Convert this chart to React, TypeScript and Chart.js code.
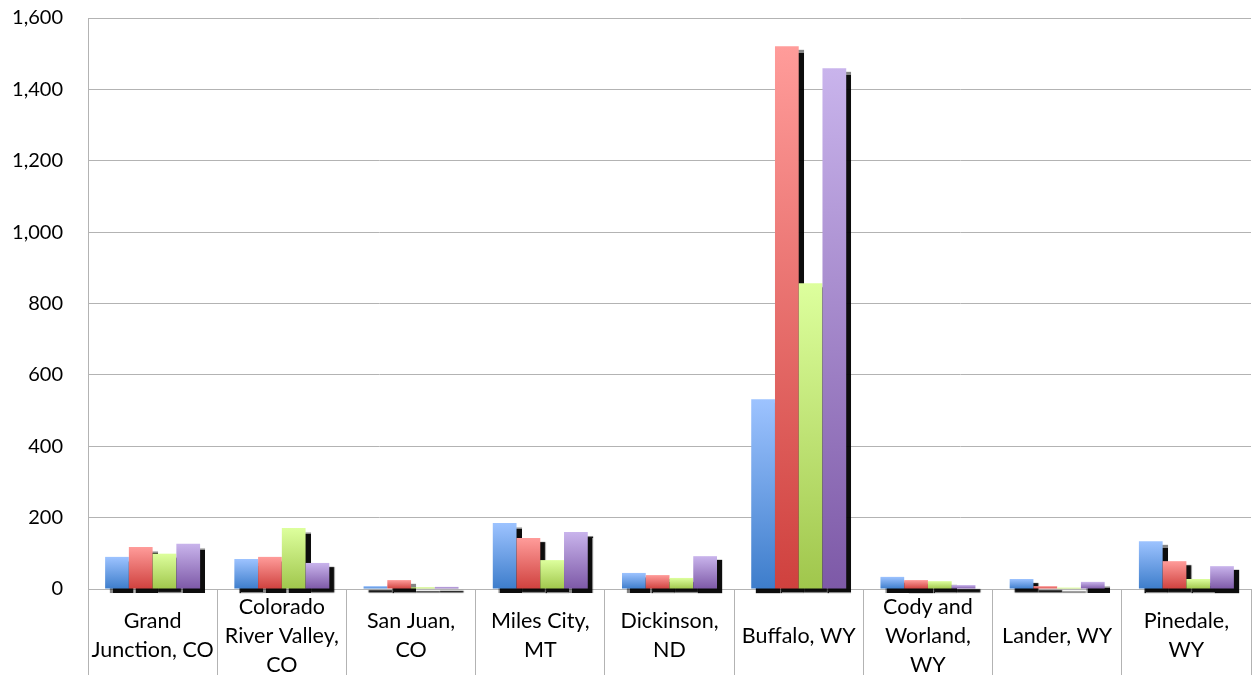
import React, { useEffect, useRef } from "react";
import { Chart, registerables } from "chart.js";

Chart.register(...registerables);

const categories: (string | string[])[] = [
  ["Grand", "Junction, CO"],
  ["Colorado", "River Valley,", "CO"],
  ["San Juan,", "CO"],
  ["Miles City,", "MT"],
  ["Dickinson,", "ND"],
  "Buffalo, WY",
  ["Cody and", "Worland,", "WY"],
  "Lander, WY",
  ["Pinedale,", "WY"],
];

const seriesBlue = [90, 84, 8, 185, 45, 532, 34, 28, 134];
const seriesRed = [118, 90, 25, 143, 39, 1521, 25, 8, 78];
const seriesGreen = [99, 171, 5, 81, 31, 857, 22, 4, 28];
const seriesPurple = [127, 73, 6, 160, 92, 1459, 11, 20, 64];

const yMin = 0;
const yMax = 1600;
const yStep = 200;

const palette = [
  { top: "#9DC3FF", bottom: "#3D7DCB" },
  { top: "#FF9C9A", bottom: "#CF413E" },
  { top: "#DDFF9D", bottom: "#A0C64C" },
  { top: "#C9B4EC", bottom: "#7D59A7" },
];

const GRID = "#b3b3b3";
const FONT = "Lato, 'Open Sans', sans-serif";

function gradientFor(idx: number) {
  return (ctx: any) => {
    const chart = ctx.chart;
    const c = palette[idx];
    if (!chart.chartArea || ctx.type !== "data") return c.top;
    const ys = chart.scales.y;
    const top = ys.getPixelForValue(ctx.raw);
    const bot = ys.getPixelForValue(0);
    if (!isFinite(top) || !isFinite(bot) || Math.abs(bot - top) < 0.5) return c.bottom;
    const g = chart.ctx.createLinearGradient(0, top, 0, bot);
    g.addColorStop(0, c.top);
    g.addColorStop(1, c.bottom);
    return g;
  };
}

// Draw datasets in forward order (first series first) with a drop shadow,
// so each bar's shadow is covered by the following bar, as in the original.
const shadowPlugin = {
  id: "barShadow",
  beforeDatasetsDraw(chart: any) {
    const c = chart.ctx;
    c.save();
    c.shadowColor = "rgba(0,0,0,0.95)";
    c.shadowOffsetX = 5;
    c.shadowOffsetY = 4;
    c.shadowBlur = 1;
    const metas = chart.getSortedVisibleDatasetMetas();
    for (let i = 0; i < metas.length; i++) {
      metas[i].controller.draw();
    }
    c.restore();
    return false;
  },
};

export default function App() {
  const ref = useRef<HTMLCanvasElement | null>(null);

  useEffect(() => {
    if (!ref.current) return;
    const all = [seriesBlue, seriesRed, seriesGreen, seriesPurple];
    const names = ["Series 1", "Series 2", "Series 3", "Series 4"];
    const chart = new Chart(ref.current, {
      type: "bar",
      data: {
        labels: categories,
        datasets: all.map((d, i) => ({
          label: names[i],
          data: d,
          backgroundColor: gradientFor(i),
          borderWidth: 0,
          categoryPercentage: 0.735,
          barPercentage: 1.0,
          clip: false as any,
        })),
      },
      plugins: [shadowPlugin],
      options: {
        animation: false,
        responsive: true,
        maintainAspectRatio: false,
        locale: "en-US",
        layout: { padding: { top: 18, right: 2, left: 0, bottom: 0 } },
        plugins: {
          legend: { display: false },
          tooltip: { enabled: false },
          title: { display: false },
        },
        scales: {
          x: {
            offset: true,
            grid: {
              offset: true,
              drawOnChartArea: false,
              drawTicks: true,
              tickLength: 86,
              color: GRID,
              lineWidth: 1,
            },
            border: { display: true, color: GRID, width: 1 },
            ticks: {
              color: "#000",
              font: { family: FONT, size: 21.5, lineHeight: 29 / 21.5 },
              padding: -68,
              maxRotation: 0,
              minRotation: 0,
              autoSkip: false,
              crossAlign: "center",
            },
            afterFit: (s: any) => {
              s.height = 86;
              s.paddingTop = 0;
              s.paddingBottom = 0;
            },
          },
          y: {
            min: yMin,
            max: yMax,
            grid: {
              color: GRID,
              lineWidth: 1,
              drawTicks: false,
            },
            border: { display: true, color: GRID, width: 1 },
            ticks: {
              stepSize: yStep,
              color: "#000",
              font: { family: FONT, size: 20 },
              padding: 25,
            },
            afterFit: (s: any) => {
              s.width = 88;
              s.paddingTop = 0;
              s.paddingBottom = 0;
            },
          },
        },
      },
    });
    return () => chart.destroy();
  }, []);

  return (
    <div style={{ position: "absolute", left: 0, top: 0, width: 1253, height: 675, background: "#fff" }}>
      <canvas ref={ref} />
    </div>
  );
}
